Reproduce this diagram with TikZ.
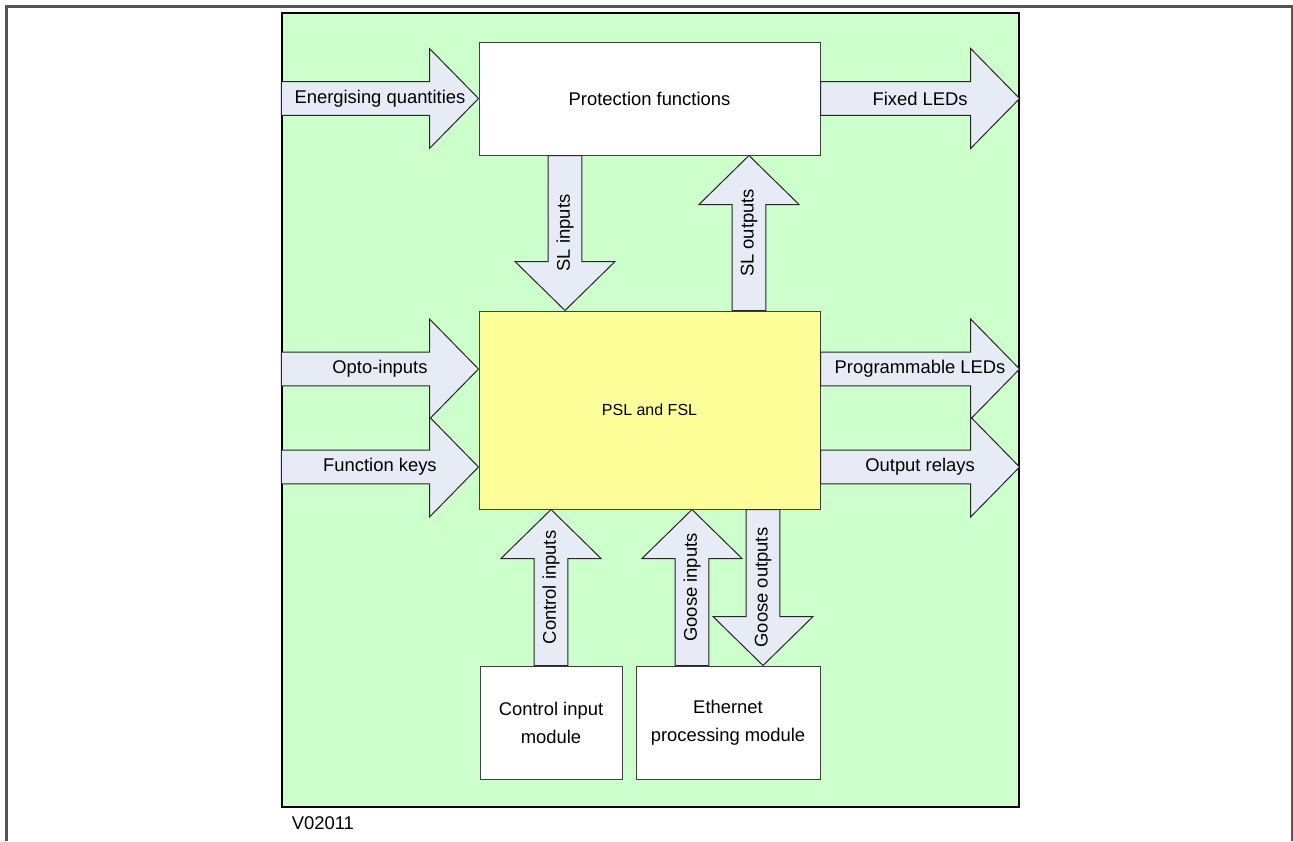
\documentclass[tikz,border=0pt]{standalone}
\usepackage{fontspec}
\setmainfont{Liberation Sans}
\usetikzlibrary{calc}

\definecolor{panelgreen}{RGB}{204,255,204}
\definecolor{arrowfill}{RGB}{230,235,246}
\definecolor{pslyellow}{RGB}{255,255,153}
\definecolor{edgegray}{RGB}{64,64,64}
\definecolor{framegray}{RGB}{85,85,85}

% parameters of the block arrows
\def\shaftw{8.4pt}    % half width of the shaft
\def\headw{25pt}      % half width of the head
\def\headlen{24.5pt}  % length of the head

% block arrow: [label options]{tail}{tip}{label}
\newcommand{\blockarrow}[4][]{%
	\coordinate (ba-base) at ($#3!\headlen!#2$);
	\draw[barrow] ($#2!\shaftw!90:#3$) -- ($(ba-base)!\shaftw!90:#3$)
		-- ($(ba-base)!\headw!90:#3$) -- #3
		-- ($(ba-base)!\headw!-90:#3$) -- ($(ba-base)!\shaftw!-90:#3$)
		-- ($#2!\shaftw!-90:#3$) -- cycle;
	\node[#1] at ($#2!0.5!#3$) {#4};
}

\begin{document}
\begin{tikzpicture}[x=0.5pt, y=-0.5pt,
	font=\fontsize{9.2}{14}\selectfont,
	box/.style={draw=edgegray, line width=0.5pt, fill=white, align=center, inner sep=0pt},
	panel/.style={draw=black, line width=0.6pt, fill=panelgreen, inner sep=0pt},
	barrow/.style={draw=black!85, line width=0.5pt, fill=arrowfill, line join=miter}]
	
	\useasboundingbox (0,0) rectangle (1293,841);
	
	% outer frame (open at the bottom)
	\draw[framegray, line width=1.5pt] (6,841) -- (6,6) -- (1292,6) -- (1292,841);
	
	% green panel
	\node[panel, minimum width=368.5pt, minimum height=397pt] (panel) at (650.5,410) {};
	
	% blocks
	\node[box, minimum width=170.5pt, minimum height=56.5pt] (prot) at (649.5,98.5) {Protection functions};
	\node[box, fill=pslyellow, font=\fontsize{8}{10}\selectfont,
		minimum width=170.5pt, minimum height=99pt] (psl) at (649.5,410) {PSL and FSL};
	\node[box, minimum width=71pt, minimum height=56.5pt] (ctrl) at (551,722.5) {Control input\\module};
	\node[box, minimum width=92pt, minimum height=56.5pt] (eth) at (728,722.5) {Ethernet\\processing module};
	
	% arrow end points
	\coordinate (eq-in) at (panel.west |- prot.west);
	\coordinate (fled-out) at (panel.east |- prot.east);
	\coordinate (sli-top) at ($(prot.south)+(-84.5,0)$);
	\coordinate (sli-bot) at (sli-top |- psl.north);
	\coordinate (slo-bot) at ($(psl.north)+(99.5,0)$);
	\coordinate (slo-top) at (slo-bot |- prot.south);
	\coordinate (opto-in) at ($(panel.west |- psl.west)+(0,-41)$);
	\coordinate (opto-tip) at (psl.west |- opto-in);
	\coordinate (fkey-in) at ($(panel.west |- psl.west)+(0,57)$);
	\coordinate (fkey-tip) at (psl.west |- fkey-in);
	\coordinate (pled-out) at ($(panel.east |- psl.east)+(0,-41)$);
	\coordinate (pled-tail) at (psl.east |- pled-out);
	\coordinate (rel-out) at ($(panel.east |- psl.east)+(0,57)$);
	\coordinate (rel-tail) at (psl.east |- rel-out);
	\coordinate (cin-top) at (ctrl.north |- psl.south);
	\coordinate (gin-bot) at ($(eth.north)+(-36,0)$);
	\coordinate (gin-top) at (gin-bot |- psl.south);
	\coordinate (gout-bot) at ($(eth.north)+(35,0)$);
	\coordinate (gout-top) at (gout-bot |- psl.south);
	
	% horizontal arrows
	\blockarrow{(eq-in)}{(prot.west)}{Energising quantities}
	\blockarrow{(prot.east)}{(fled-out)}{Fixed LEDs}
	\blockarrow{(opto-in)}{(opto-tip)}{Opto-inputs}
	\blockarrow{(fkey-in)}{(fkey-tip)}{Function keys}
	\blockarrow{(pled-tail)}{(pled-out)}{Programmable LEDs}
	\blockarrow{(rel-tail)}{(rel-out)}{Output relays}
	
	% vertical arrows
	\blockarrow[rotate=90]{(sli-top)}{(sli-bot)}{SL inputs}
	\blockarrow[rotate=90]{(slo-bot)}{(slo-top)}{SL outputs}
	\blockarrow[rotate=90]{(ctrl.north)}{(cin-top)}{Control inputs}
	\blockarrow[rotate=90]{(gin-bot)}{(gin-top)}{Goose inputs}
	\blockarrow[rotate=90]{(gout-top)}{(gout-bot)}{Goose outputs}
	
	% drawing number
	\node[anchor=north west, inner sep=0pt] (tag) at ($(panel.south west)+(10,8.5)$) {V02011};
	
\end{tikzpicture}
\end{document}
